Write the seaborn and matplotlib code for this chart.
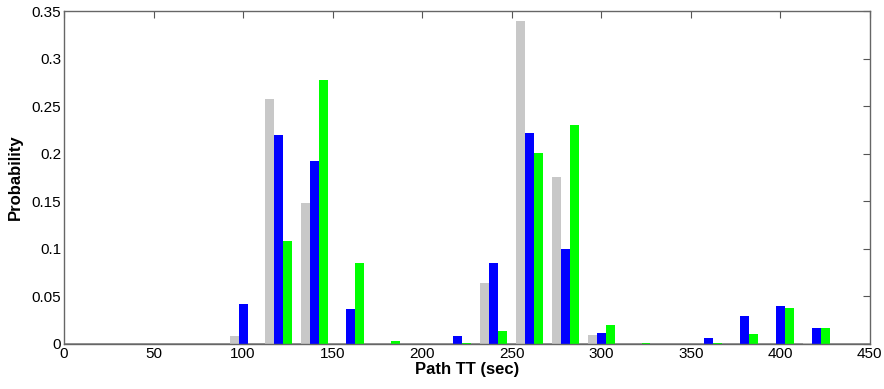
import pandas as pd
import matplotlib
matplotlib.use('Agg')
import matplotlib.pyplot as plt
import seaborn as sns

# Histogram bins (sec) and probability for each series
bins = [0, 20, 40, 60, 80, 100, 120, 140, 160, 180, 200, 220, 240, 260, 280, 300, 320, 340, 360, 380, 400, 420]
series_a = [0, 0, 0, 0, 0, 0.008, 0.257, 0.148, 0, 0, 0, 0, 0.064, 0.339, 0.176, 0.009, 0, 0, 0, 0, 0, 0.001]
series_b = [0, 0, 0, 0, 0, 0.042, 0.220, 0.192, 0.037, 0, 0, 0.008, 0.085, 0.222, 0.100, 0.012, 0, 0, 0.006, 0.029, 0.040, 0.017]
series_c = [0, 0, 0, 0, 0, 0, 0.108, 0.278, 0.085, 0.0035, 0, 0.001, 0.014, 0.201, 0.230, 0.020, 0.001, 0, 0.0015, 0.011, 0.038, 0.017]
names = ['A', 'B', 'C']
colors = ['#c8c8c8', '#0000ff', '#00ff00']

df = pd.DataFrame({
    'TT': bins * 3,
    'Probability': series_a + series_b + series_c,
    'Series': [n for n in names for _ in bins],
})

sns.set_style('white')
plt.rcParams['font.family'] = ['Liberation Sans', 'DejaVu Sans']

fig = plt.figure(figsize=(8.84, 3.89), dpi=100)
ax = fig.add_axes([0.0724, 0.1157, 0.9116, 0.856])

sns.barplot(data=df, x='TT', y='Probability', hue='Series', hue_order=names,
            palette=colors, native_scale=True, width=0.75, saturation=1,
            linewidth=0, legend=False, ax=ax)

ax.axhline(0, color='#888888', lw=1.2, zorder=0)
ax.set_xlim(0, 450)
ax.set_ylim(0, 0.35)
ax.set_xticks(range(0, 451, 50))
yt = [0, 0.05, 0.1, 0.15, 0.2, 0.25, 0.3, 0.35]
ax.set_yticks(yt)
ax.set_yticklabels(['0', '0.05', '0.1', '0.15', '0.2', '0.25', '0.3', '0.35'])
ax.tick_params(direction='in', length=5, color='#555555', labelsize=11,
               labelcolor='black', top=True, right=True, pad=2)
for s in ax.spines.values():
    s.set_color('#666666')
    s.set_linewidth(1.0)

ax.set_xlabel('Path TT (sec)', fontsize=12, fontweight='bold', labelpad=1, color='black')
ax.set_ylabel('Probability', fontsize=12, fontweight='bold', labelpad=6, color='black')

fig.savefig('out.png', dpi=100)
